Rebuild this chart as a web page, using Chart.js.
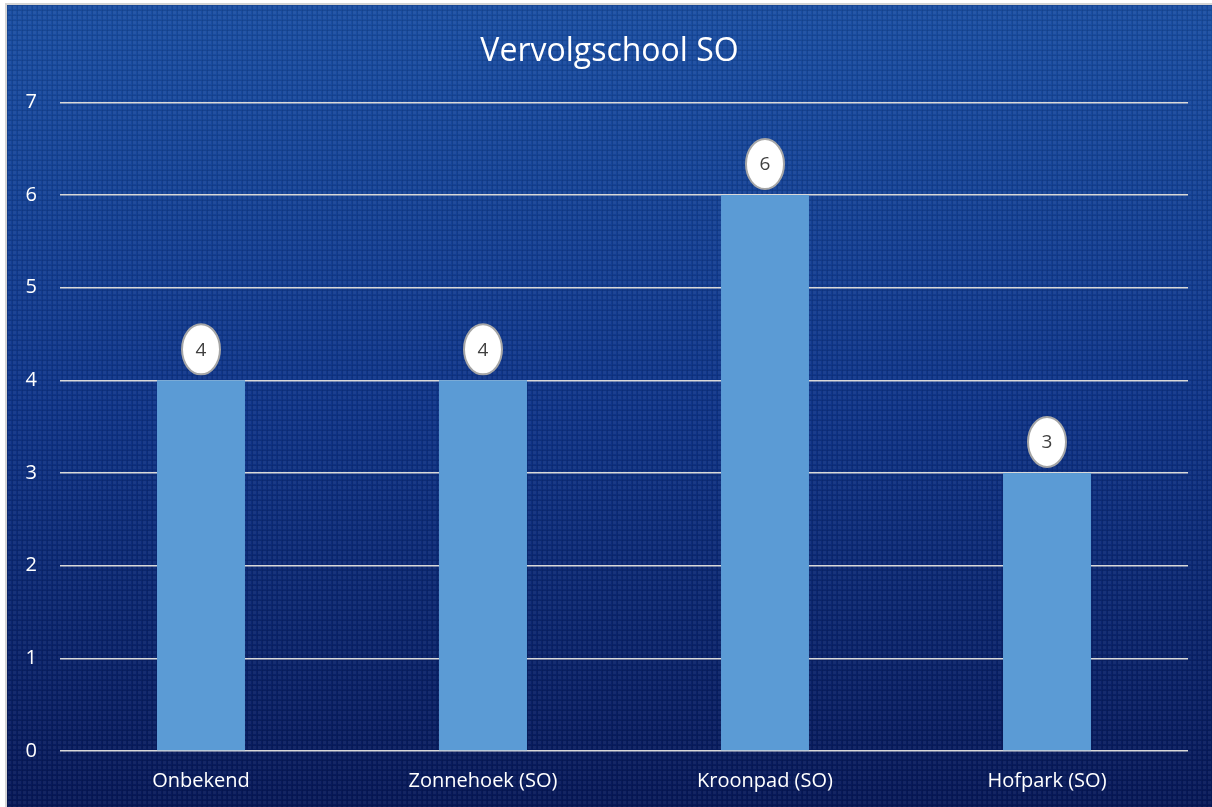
<!DOCTYPE html>
<html>
<head>
<meta charset="utf-8">
<title>Vervolgschool SO</title>
<script src="https://cdn.jsdelivr.net/npm/chart.js@4"></script>
<style>
    html, body { margin: 0; padding: 0; background: #ffffff; overflow: hidden; }
    #kader {
        position: absolute; left: 5px; top: 3px; width: 1207px; height: 804px;
        border-left: 2px solid #d4d4d4; border-top: 2px solid #d4d4d4;
        box-sizing: border-box;
    }
    #graph { position: absolute; left: 7px; top: 5px; }
</style>
</head>
<body>
<div id="kader"></div>
<canvas id="graph" width="1205" height="802"></canvas>
<script>
// ============================================
// Vervolgschool SO - aantallen per school
// ============================================
var titel = "Vervolgschool SO";
var scholen = ["Onbekend", "Zonnehoek (SO)", "Kroonpad (SO)", "Hofpark (SO)"];
var aantallen = [4, 4, 6, 3];
var yMax = 7;

// Achtergrond met verloop (donkerblauw) en fijne rasterstructuur
var achtergrond = {
    id: "achtergrond",
    beforeDraw: function (chart) {
        var ctx = chart.ctx;
        var g = ctx.createLinearGradient(0, 0, 0, chart.height);
        g.addColorStop(0, "#1a4ea2");
        g.addColorStop(0.5, "#0f3488");
        g.addColorStop(1, "#071858");
        ctx.save();
        ctx.fillStyle = g;
        ctx.fillRect(0, 0, chart.width, chart.height);

        // raster van kleine puntjes
        var tegel = document.createElement("canvas");
        tegel.width = 5;
        tegel.height = 5;
        var t = tegel.getContext("2d");
        t.fillStyle = "rgba(255,255,255,0.05)";
        t.fillRect(1, 1, 3, 3);
        t.fillStyle = "rgba(0,0,0,0.08)";
        t.fillRect(0, 0, 5, 1);
        t.fillRect(0, 0, 1, 5);
        ctx.fillStyle = ctx.createPattern(tegel, "repeat");
        ctx.fillRect(0, 0, chart.width, chart.height);
        ctx.restore();
    }
};

// Waardelabels in witte ovalen boven de staven
var ovaalLabels = {
    id: "ovaalLabels",
    afterDatasetsDraw: function (chart) {
        var ctx = chart.ctx;
        var meta = chart.getDatasetMeta(0);
        ctx.save();
        meta.data.forEach(function (bar, i) {
            var cx = bar.x;
            var cy = bar.y - 31;
            ctx.beginPath();
            ctx.ellipse(cx, cy, 19, 25, 0, 0, Math.PI * 2);
            ctx.fillStyle = "#ffffff";
            ctx.fill();
            ctx.lineWidth = 2;
            ctx.strokeStyle = "#a6a6a6";
            ctx.stroke();
            ctx.fillStyle = "#404040";
            ctx.font = "19px 'Open Sans'";
            ctx.textAlign = "center";
            ctx.textBaseline = "middle";
            ctx.fillText(String(aantallen[i]), cx, cy + 1);
        });
        ctx.restore();
    }
};

var ctx = document.getElementById("graph").getContext("2d");
new Chart(ctx, {
    type: "bar",
    data: {
        labels: scholen,
        datasets: [{
            label: titel,
            data: aantallen,
            backgroundColor: "#5b9bd5",
            borderWidth: 0,
            barPercentage: 0.312,
            categoryPercentage: 1
        }]
    },
    options: {
        responsive: false,
        animation: false,
        layout: { padding: 0 },
        plugins: {
            legend: { display: false },
            tooltip: { enabled: false },
            title: {
                display: true,
                text: titel,
                color: "#ffffff",
                font: { family: "'Open Sans'", size: 32, weight: "normal" },
                padding: { top: 28, bottom: 31 }
            }
        },
        scales: {
            x: {
                afterFit: function (scale) { scale.height = 56; },
                grid: { display: false, drawTicks: false },
                border: { display: false },
                ticks: {
                    color: "#ffffff",
                    font: { family: "'Open Sans'", size: 20 },
                    padding: 18,
                    maxRotation: 0
                }
            },
            y: {
                min: 0,
                max: yMax,
                afterFit: function (scale) { scale.width = 53; },
                grid: { color: "#d9d9d9", lineWidth: 1.5, drawTicks: false },
                border: { display: false },
                ticks: {
                    stepSize: 1,
                    color: "#ffffff",
                    font: { family: "'Open Sans'", size: 20 },
                    padding: 23
                }
            },
            // lege as rechts, alleen voor de witruimte
            rechts: {
                position: "right",
                min: 0,
                max: yMax,
                afterFit: function (scale) { scale.width = 24; },
                grid: { display: false, drawTicks: false },
                border: { display: false },
                ticks: { display: false }
            }
        }
    },
    plugins: [achtergrond, ovaalLabels]
});
</script>
</body>
</html>
